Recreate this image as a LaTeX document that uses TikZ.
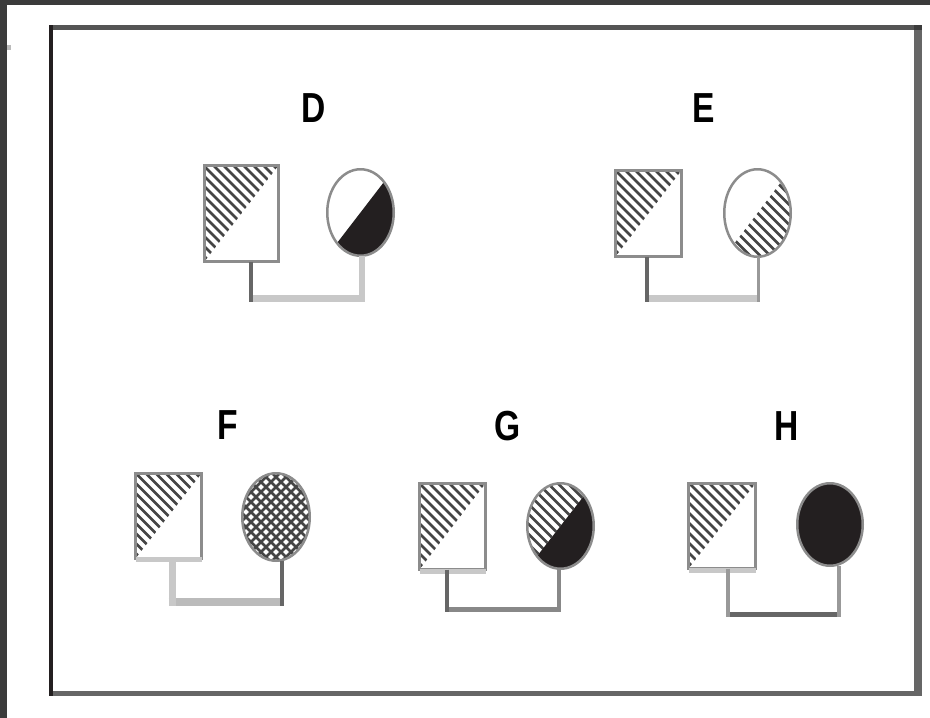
\documentclass[tikz,border=0pt]{standalone}
\usepackage{fontspec}
\setmainfont{Liberation Sans}
\usetikzlibrary{shapes.geometric,calc}
\definecolor{frm}{HTML}{3B3B3B}
\definecolor{ink}{HTML}{231F20}
\definecolor{g55}{HTML}{555555}
\definecolor{g66}{HTML}{666666}
\definecolor{g88}{HTML}{888888}
\definecolor{g99}{HTML}{999999}
\definecolor{gbb}{HTML}{BBBBBB}
\definecolor{gcc}{HTML}{C8C8C8}
\definecolor{outl}{HTML}{8C8C8C}
\definecolor{htc}{HTML}{454545}
\newcommand\hatchback{\foreach \k in {-120,-110,...,120} \draw[hatchline] ([xshift=\k pt]path picture bounding box.center) ++(-110pt,110pt) -- ++(220pt,-220pt);}
\newcommand\hatchfwd{\foreach \k in {-120,-110,...,120} \draw[hatchline] ([xshift=\k pt]path picture bounding box.center) ++(-110pt,-110pt) -- ++(220pt,220pt);}
\newcommand\ppUL{(path picture bounding box.south west) -- (path picture bounding box.north east) -- (path picture bounding box.north west) -- cycle}
\newcommand\ppLR{(path picture bounding box.south west) -- (path picture bounding box.north east) -- (path picture bounding box.south east) -- cycle}
\tikzset{
  hatchline/.style={draw=htc, line width=2.8pt},
  sqbox/.style={rectangle, draw=outl, line width=3pt, inner sep=0pt, outer sep=0pt, fill=white},
  ellbox/.style={ellipse, draw=outl, line width=2.5pt, inner sep=0pt, outer sep=0pt, fill=white},
  ULhatch/.style={path picture={\begin{scope}\clip \ppUL; \hatchback\end{scope}}},
  LRhatch/.style={path picture={\begin{scope}\clip \ppLR; \hatchback\end{scope}}},
  LRblack/.style={path picture={\fill[ink] \ppLR;}},
  ULhatchLRblack/.style={path picture={\begin{scope}\clip \ppUL; \hatchback\end{scope}\fill[ink] \ppLR;}},
  crosshatch/.style={path picture={\hatchback\hatchfwd}},
  lbl/.style={inner sep=0pt, font=\fontsize{42}{42}\selectfont\bfseries, xscale=0.8},
  seg/.style 2 args={draw=#1, line width=#2},
}
\begin{document}
\begin{tikzpicture}[x=1pt,y=-1pt]
\useasboundingbox (0,0) rectangle (930,718);
\fill[white] (0,0) rectangle (930,718);
% outer dark edges
\fill[frm] (0,0) rectangle (930,5);
\fill[frm] (0,0) rectangle (7,718);
\fill[gbb] (7,45) rectangle (11,50);
% inner frame
\fill[g55] (53,25) rectangle (922,30);
\fill[g66] (914,30) rectangle (922,696);
\fill[g66] (53,691) rectangle (914,696);
\fill[ink] (49,25) rectangle (53,696);
\fill[frm] (914,25) rectangle (922,30);

% ---------- D ----------
\node[lbl] (lD) at (314,108) {D};
\node[sqbox, ULhatch, minimum width=74pt, minimum height=96pt] (sqD) at (241.5,213.5) {};
\node[ellbox, LRblack, minimum width=66.5pt, minimum height=86.5pt] (elD) at (360.5,212.5) {};
\coordinate (kD1) at (251,298);
\coordinate (kD2) at (362,298);
\draw[seg={gcc}{7pt}, shorten <=-2pt, shorten >=-3pt] (kD1) -- (kD2);
\draw[seg={g66}{4pt}, shorten >=-3.5pt] (sqD.south -| kD1) -- (kD1);
\draw[seg={gcc}{6pt}, shorten >=-3.5pt] (elD.south -| kD2) -- (kD2);

% ---------- E ----------
\node[lbl] (lE) at (704,108) {E};
\node[sqbox, ULhatch, minimum width=66pt, minimum height=86pt] (sqE) at (648.5,213.5) {};
\node[ellbox, LRhatch, minimum width=66.5pt, minimum height=87.5pt] (elE) at (757.5,213) {};
\coordinate (kE1) at (647,298);
\coordinate (kE2) at (758,298);
\draw[seg={gcc}{7pt}, shorten <=-2pt, shorten >=-1.5pt] (kE1) -- (kE2);
\draw[seg={g66}{4pt}, shorten >=-3.5pt] (sqE.south -| kE1) -- (kE1);
\draw[seg={g99}{3pt}, shorten >=-3.5pt] (elE.south -| kE2) -- (kE2);

% ---------- F ----------
\node[lbl] (lF) at (228,425) {F};
\node[sqbox, ULhatch, minimum width=66pt, minimum height=85pt] (sqF) at (168.5,516) {};
\draw[seg={gcc}{5pt}] ([yshift=-1pt]sqF.south west) -- ([yshift=-1pt]sqF.south east);
\node[ellbox, crosshatch, minimum width=67.5pt, minimum height=87.5pt] (elF) at (276,517) {};
\coordinate (kF1) at (172,602);
\coordinate (kF2) at (282,602);
\draw[seg={gbb}{8pt}, shorten <=-3.5pt, shorten >=-2pt] (kF1) -- (kF2);
\draw[seg={gcc}{7pt}, shorten >=-4pt] (sqF.south -| kF1) -- (kF1);
\draw[seg={g66}{4pt}, shorten >=-4pt] (elF.south -| kF2) -- (kF2);

% ---------- G ----------
\node[lbl] (lG) at (508,426) {G};
\node[sqbox, ULhatch, minimum width=66pt, minimum height=86pt] (sqG) at (452.5,526.5) {};
\draw[seg={gcc}{5pt}] ([yshift=-1.5pt]sqG.south west) -- ([yshift=-1.5pt]sqG.south east);
\node[ellbox, ULhatchLRblack, minimum width=66.5pt, minimum height=85.5pt] (elG) at (560.5,526) {};
\coordinate (kG1) at (447,609.5);
\coordinate (kG2) at (559,609.5);
\draw[seg={g88}{5pt}, shorten <=-2pt, shorten >=-2pt] (kG1) -- (kG2);
\draw[seg={g66}{4pt}, shorten >=-2.5pt] (sqG.south -| kG1) -- (kG1);
\draw[seg={g88}{4pt}, shorten >=-2.5pt] (elG.south -| kG2) -- (kG2);

% ---------- H ----------
\node[lbl] (lH) at (787,426) {H};
\node[sqbox, ULhatch, minimum width=67pt, minimum height=85pt] (sqH) at (722,526) {};
\draw[seg={gcc}{5pt}] ([yshift=-1.5pt]sqH.south west) -- ([yshift=-1.5pt]sqH.south east);
\node[ellbox, fill=ink, minimum width=65.5pt, minimum height=82.5pt] (elH) at (830,524.5) {};
\coordinate (kH1) at (728,614.5);
\coordinate (kH2) at (839,614.5);
\draw[seg={g66}{5pt}, shorten <=-2pt, shorten >=-2pt] (kH1) -- (kH2);
\draw[seg={g99}{4pt}, shorten >=-2.5pt] (sqH.south -| kH1) -- (kH1);
\draw[seg={g99}{4pt}, shorten >=-2.5pt] (elH.south -| kH2) -- (kH2);
\end{tikzpicture}
\end{document}
